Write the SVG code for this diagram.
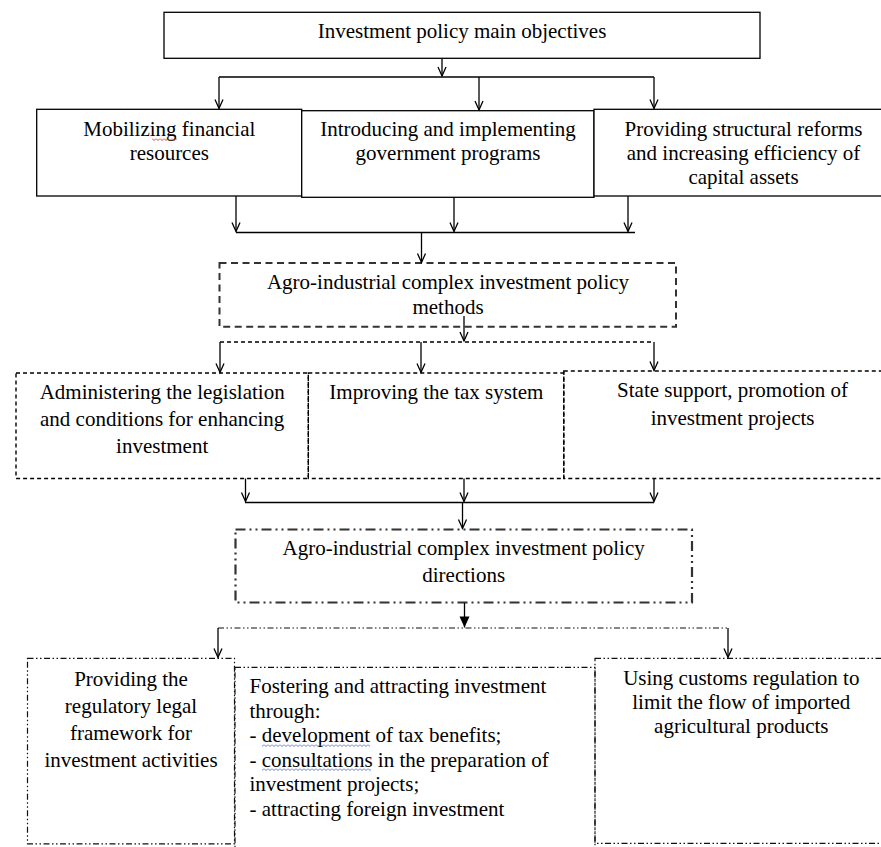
<svg xmlns="http://www.w3.org/2000/svg" width="881" height="847" viewBox="0 0 881 847">
<style>
text{font-family:"Liberation Serif","Times New Roman",serif;font-size:21px;fill:#000}
.c{text-anchor:middle}
.solid{fill:#fff;stroke:#000;stroke-width:1.3}
.dash1{fill:none;stroke:#333;stroke-width:2;stroke-dasharray:7 4.5}
.dash2{fill:none;stroke:#000;stroke-width:1.4;stroke-dasharray:4 3}
.dd1{fill:none;stroke:#333;stroke-width:2.2;stroke-dasharray:10 4 2 4 2 4}
.dd2{fill:none;stroke:#111;stroke-width:1.2;stroke-dasharray:6 2.5 1.5 2.5 1.5 2.5}
.conn{fill:none;stroke:#000;stroke-width:1.3}
.arr{marker-end:url(#open)}
</style>
<defs>
<marker id="open" viewBox="-10 -6 12 12" refX="0" refY="0" markerWidth="12" markerHeight="12" markerUnits="userSpaceOnUse" orient="auto" overflow="visible">
<path d="M-9,-4 L0,0 L-9,4" fill="none" stroke="#000" stroke-width="1.3"/>
</marker>
<marker id="fill" viewBox="-12 -6 13 12" refX="0" refY="0" markerWidth="13" markerHeight="12" markerUnits="userSpaceOnUse" orient="auto" overflow="visible">
<path d="M-11,-5 L0,0 L-11,5 Z" fill="#000"/>
</marker>
<pattern id="wavyB" width="4" height="3" patternUnits="userSpaceOnUse"><path d="M0,0.5 L2,2.5 L4,0.5" fill="none" stroke="#4f6bd6" stroke-width="0.9"/></pattern>
<pattern id="wavyR" width="4" height="3" patternUnits="userSpaceOnUse"><path d="M0,0.5 L2,2.5 L4,0.5" fill="none" stroke="#e03030" stroke-width="0.9"/></pattern>
</defs>

<g id="objectives">
<rect class="solid" x="164" y="12.3" width="596" height="46"/>
<text class="c" x="462" y="38">Investment policy main objectives</text>
</g>
<g id="mobilizing">
<rect class="solid" x="36.7" y="109.3" width="265" height="86.7"/>
<text class="c" x="169.3" y="136">Mobilizing financial</text>
<text class="c" x="169.3" y="160">resources</text>
<rect x="152" y="138" width="25" height="3" fill="url(#wavyR)"/>
</g>
<g id="introducing">
<rect class="solid" x="301.7" y="110.7" width="292.3" height="86.6"/>
<text class="c" x="448" y="136">Introducing and implementing</text>
<text class="c" x="448" y="160">government programs</text>
</g>
<g id="providing-reforms">
<rect class="solid" x="594" y="109.3" width="295" height="86.7"/>
<text class="c" x="743.5" y="136">Providing structural reforms</text>
<text class="c" x="743.5" y="160">and increasing efficiency of</text>
<text class="c" x="743.5" y="184">capital assets</text>
</g>
<g id="methods">
<rect class="dash1" x="219.5" y="263" width="456.5" height="63.7"/>
<text class="c" x="448" y="288.5">Agro-industrial complex investment policy</text>
<text class="c" x="448" y="313.5">methods</text>
</g>
<g id="administering">
<rect class="dash2" x="16" y="373" width="292.3" height="105.5"/>
<text class="c" x="162.2" y="398.5">Administering the legislation</text>
<text class="c" x="162.2" y="425.5">and conditions for enhancing</text>
<text class="c" x="162.2" y="452.5">investment</text>
</g>
<g id="tax">
<rect class="dash2" x="308.3" y="373" width="255.5" height="105.5"/>
<text class="c" x="436.4" y="398.5">Improving the tax system</text>
</g>
<g id="state-support">
<rect class="dash2" x="563.8" y="371" width="325" height="107.5"/>
<text class="c" x="732.6" y="396.5">State support, promotion of</text>
<text class="c" x="732.6" y="425">investment projects</text>
</g>
<g id="directions">
<rect class="dd1" x="235.5" y="529.5" width="456.5" height="73"/>
<text class="c" x="463.7" y="555">Agro-industrial complex investment policy</text>
<text class="c" x="463.7" y="581.7">directions</text>
</g>
<g id="regulatory">
<rect class="dd2" x="27.5" y="658.3" width="207" height="185.5"/>
<text class="c" x="131" y="686">Providing the</text>
<text class="c" x="131" y="713">regulatory legal</text>
<text class="c" x="131" y="740">framework for</text>
<text class="c" x="131" y="767">investment activities</text>
</g>
<g id="fostering">
<rect class="dd2" x="235" y="667.3" width="360" height="190"/>
<text x="249.5" y="693">Fostering and attracting investment</text>
<text x="249.5" y="717.5">through:</text>
<text x="249.5" y="742">- development of tax benefits;</text>
<text x="249.5" y="766.5">- consultations in the preparation of</text>
<text x="249.5" y="791">investment projects;</text>
<text x="249.5" y="815.5">- attracting foreign investment</text>
<rect x="262" y="744" width="108" height="3" fill="url(#wavyB)"/>
<rect x="262" y="768" width="109" height="3" fill="url(#wavyB)"/>
</g>
<g id="customs">
<rect class="dd2" x="595" y="658.3" width="295" height="185"/>
<text class="c" x="741.3" y="685">Using customs regulation to</text>
<text class="c" x="741.3" y="709">limit the flow of imported</text>
<text class="c" x="741.3" y="733">agricultural products</text>
</g>

<g id="connectors">
<path class="conn arr" d="M442,58.5 V76"/>
<path class="conn" d="M219,77 H654"/>
<path class="conn arr" d="M219,77 V108.5"/>
<path class="conn arr" d="M479,77 V110"/>
<path class="conn arr" d="M654,77 V108.5"/>
<path class="conn arr" d="M236,196 V231.5"/>
<path class="conn arr" d="M454,197.3 V231.5"/>
<path class="conn arr" d="M628,196 V231.5"/>
<path class="conn" d="M236,232.5 H635"/>
<path class="conn arr" d="M421.5,232.5 V262.5"/>
<path class="conn arr" d="M464,316 V341"/>
<path class="dash2" d="M220,342 H654"/>
<path class="conn arr" d="M220,342 V372.5"/>
<path class="conn arr" d="M421,342 V372.5"/>
<path class="conn arr" d="M654,342 V370.5"/>
<path class="conn arr" d="M245.5,478.5 V501.5"/>
<path class="conn arr" d="M464,478.5 V501.5"/>
<path class="conn arr" d="M654,478.5 V501.5"/>
<path class="conn" d="M245,502.5 H654"/>
<path class="conn arr" d="M462.5,502.5 V528.5"/>
<path class="conn" d="M464.5,603 V627.5" marker-end="url(#fill)"/>
<path class="dd2" d="M218,628 H728"/>
<path class="conn arr" d="M218,628 V657.5"/>
<path class="conn arr" d="M728,628 V657.5"/>
</g>
</svg>
